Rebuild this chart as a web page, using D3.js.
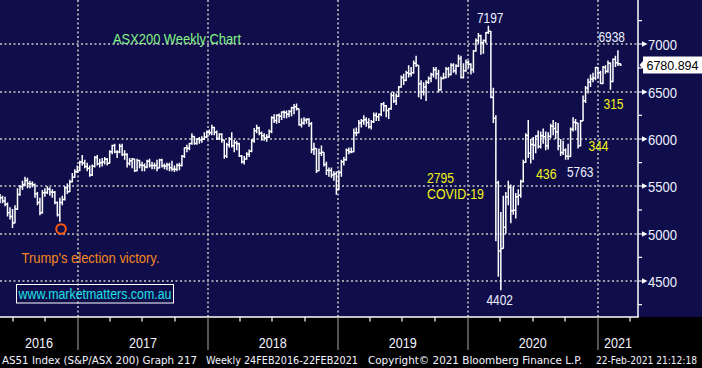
<!DOCTYPE html>
<html><head><meta charset="utf-8">
<script src="https://cdn.jsdelivr.net/npm/d3@7"></script>
<style>html,body{margin:0;padding:0;background:#000;}svg{display:block}</style>
</head><body><svg id="c" width="702" height="368"></svg>
<script>
// ---------- DATA ----------
const firstWeek = "2016-05-27";   // date of first weekly bar shown
const weekOpen = [5340,5378,5344,5311,5220,5180,5113,5260,5413,5497,5520,5562,5530,5527,5516,5420,5330,5220,5433,5435,5470,5440,5438,5330,5200,5330,5360,5484,5443,5548,5596,5654,
5666,5758,5745,5710,5690,5620,5713,5805,5739,5749,5756,5787,5743,5864,5931,5863,5862,5924,5836,5837,5742,5771,5788,5664,5774,5724,5721,5704,5765,5721,5721,5720,5694,5779,5718,5714,5728,5695,5681,5681,5722,5720,5818,5907,5903,5952,6025,5951,5997,5990,6001,6020,6070,
6065,6122,6070,6005,6050,5990,5820,5940,6000,5929,5960,5950,5820,5759,5788,5840,5870,5980,6087,6115,6060,6033,6010,6020,6080,6225,6195,6250,6240,6285,6280,6260,6290,6330,6340,6319,6150,6170,6200,6208,6160,5890,5900,5665,5850,5860,5730,5670,5667,5620,5630,5468,
5646,5760,5780,5880,5865,5864,6065,6066,6168,6190,6203,6175,6130,6181,6250,6235,6260,6370,6350,6300,6320,6460,6400,6450,6550,6650,6620,6700,6690,6700,6800,6780,6584,6500,6550,6600,6640,6680,6730,6690,6520,6640,6650,6740,6680,6780,6720,6770,6850,6650,6720,6810,
6790,6735,6929,7041,7090,7017,7040,7125,7139,6441,6218,5539,4817,4842,5067,5387,5488,5243,5247,5391,5405,5551,5755,6037,5848,5942,5934,6032,5920,6034,6024,5928,6028,6135,6111,6073,5925,5858,5883,5817,5815,6102,6176,6169,5928,6190,6405,6539,6601,6634,6643,6756,6700,
6587,6758,6715,6800,6607,6841,6806,6795];
const weekHigh = [5420,5400,5390,5330,5280,5260,5300,5480,5510,5560,5600,5590,5560,5550,5530,5440,5380,5460,5480,5500,5490,5470,5450,5340,5380,5400,5500,5530,5570,5640,5680,5720,
5770,5830,5780,5750,5720,5730,5820,5830,5790,5800,5810,5800,5880,5940,5950,5880,5950,5950,5880,5850,5800,5800,5790,5790,5780,5760,5740,5780,5790,5760,5750,5780,5790,5790,5740,5750,5750,5770,5720,5740,5750,5830,5910,5940,5960,6060,6030,6010,6020,6030,6070,6090,6100,
6150,6130,6090,6060,6060,5990,5960,6020,6070,5990,5980,5960,5830,5820,5860,5890,6000,6115,6150,6130,6080,6060,6050,6100,6240,6260,6260,6270,6290,6300,6300,6305,6340,6370,6375,6320,6220,6230,6220,6220,6180,5960,5900,5900,5930,5860,5760,5700,5700,5660,5660,5670,
5780,5810,5900,5910,5910,6110,6120,6200,6210,6250,6230,6220,6200,6280,6280,6270,6380,6390,6360,6330,6490,6500,6480,6560,6670,6690,6720,6780,6760,6830,6880,6780,6620,6600,6620,6660,6700,6760,6760,6730,6660,6700,6760,6760,6800,6800,6790,6890,6880,6800,6840,6830,
6800,6940,7060,7120,7100,7050,7130,7197,7140,6540,6250,5560,5228,5400,5440,5560,5520,5500,5430,5470,5570,5780,6060,6200,6000,6020,6040,6090,6080,6110,6080,6070,6160,6200,6180,6170,6000,5980,5900,5950,6120,6230,6210,6170,6200,6460,6560,6640,6680,6700,6760,6760,6720,
6770,6780,6830,6810,6850,6880,6938,6800];
const weekLow = [5320,5320,5290,5180,5150,5060,5110,5250,5400,5460,5500,5480,5480,5490,5380,5300,5195,5210,5390,5420,5400,5380,5310,5180,5125,5300,5350,5420,5440,5540,5590,5640,
5660,5720,5690,5660,5600,5610,5700,5720,5700,5710,5730,5720,5740,5840,5850,5800,5850,5820,5780,5700,5720,5690,5650,5660,5690,5660,5660,5690,5700,5680,5680,5660,5690,5700,5680,5670,5660,5660,5650,5660,5670,5710,5800,5860,5880,5940,5940,5940,5950,5960,5990,6010,6040,
6040,6040,5990,5990,5960,5790,5800,5910,5910,5860,5880,5810,5740,5730,5780,5810,5860,5960,6060,6040,5980,5980,5970,6010,6060,6170,6160,6170,6200,6220,6220,6230,6240,6260,6300,6140,6120,6150,6160,6130,5850,5830,5640,5660,5820,5710,5620,5600,5590,5560,5410,5460,
5600,5720,5770,5840,5850,5860,6030,6060,6120,6150,6130,6110,6100,6170,6190,6190,6240,6290,6230,6210,6310,6380,6360,6440,6540,6570,6610,6650,6660,6690,6760,6440,6420,6460,6400,6580,6600,6650,6630,6490,6510,6630,6640,6650,6670,6700,6680,6760,6640,6640,6710,6750,
6680,6700,6920,7010,6890,6900,7010,7110,6430,6170,4920,4546,4402,4840,5000,5300,5110,5200,5160,5300,5380,5540,5750,5800,5740,5780,5850,5900,5900,5950,5880,5890,6010,6040,6000,5880,5820,5830,5780,5780,5810,6080,6090,5900,5920,6190,6380,6480,6550,6600,6620,6640,6580,
6580,6690,6700,6520,6600,6760,6770,6770];
const weekClose = [5378,5344,5311,5220,5180,5113,5260,5413,5497,5520,5562,5530,5527,5516,5420,5330,5220,5433,5435,5470,5440,5438,5330,5200,5330,5360,5484,5443,5548,5596,5654,5666,
5758,5745,5710,5690,5620,5713,5805,5739,5749,5756,5787,5743,5864,5931,5863,5862,5924,5836,5837,5742,5771,5788,5664,5774,5724,5721,5704,5765,5721,5721,5720,5694,5779,5718,5714,5728,5695,5681,5681,5722,5720,5818,5907,5903,5952,6025,5951,5997,5990,6001,6020,6070,6065,
6122,6070,6005,6050,5990,5820,5940,6000,5929,5960,5950,5820,5759,5788,5840,5870,5980,6087,6115,6060,6033,6010,6020,6080,6225,6195,6250,6240,6285,6280,6260,6290,6330,6340,6319,6150,6170,6200,6208,6160,5890,5900,5665,5850,5860,5730,5670,5667,5620,5630,5468,5646,
5760,5780,5880,5865,5864,6065,6066,6168,6190,6203,6175,6130,6181,6250,6235,6260,6370,6350,6300,6320,6460,6400,6450,6550,6650,6620,6700,6690,6700,6800,6780,6584,6500,6550,6600,6640,6680,6730,6690,6520,6640,6650,6740,6680,6780,6720,6770,6850,6650,6720,6810,6790,
6735,6929,7041,7090,7017,7040,7125,7139,6441,6218,5539,4817,4842,5067,5387,5488,5243,5247,5391,5405,5551,5755,6037,5848,5942,5934,6032,5920,6034,6024,5928,6028,6135,6111,6073,5925,5858,5883,5817,5815,6102,6176,6169,5928,6190,6405,6539,6601,6634,6643,6756,6700,6587,
6758,6715,6800,6607,6841,6806,6795,6780.894];
const lastPrice = 6780.894;
const priceTicks = [4500,5000,5500,6000,6500,7000];
const minorTicks = [4250,4750,5250,5750,6250,6750,7250];
const yearStarts = ["2016-01-01","2017-01-01","2018-01-01","2019-01-01","2020-01-01","2021-01-01","2022-01-01"];
const yearLabels = ["2016","2017","2018","2019","2020","2021"];
const trumpWeek = 24, trumpValue = 5050;
const statusParts = ["AS51 Index (S&P/ASX 200) Graph 217", "Weekly 24FEB2016-22FEB2021", "Copyright\u00A9 2021 Bloomberg Finance L.P.", "22-Feb-2021 21:12:18"];

// ---------- LAYOUT ----------
const W = 702, H = 368, plotR = 638, plotB = 317;
const NAVY = "#0f0e4b";
const svg = d3.select("#c");
const parse = d3.timeParse("%Y-%m-%d");
const start = parse(firstWeek);
const dates = weekClose.map((_, i) => d3.timeDay.offset(start, 7 * i));

const x = d3.scaleTime().domain([parse("2017-01-01"), parse("2021-01-01")]).range([78, 598]);
const y = d3.scaleLinear().domain([4500, 7000]).range([281, 44.3]);

svg.append("rect").attr("width", W).attr("height", H).attr("fill", "#000");
svg.append("rect").attr("width", W).attr("height", plotB).attr("fill", NAVY);

const font = "'Liberation Sans', Arial, sans-serif";
const narrow = "'Liberation Sans Narrow', 'DejaVu Sans Condensed', 'Liberation Sans', sans-serif";

// gridlines
const grid = svg.append("g").attr("stroke", "#9c9ca8").attr("stroke-width", 2).attr("stroke-dasharray", "2,2.5");
grid.selectAll("line.h").data(priceTicks).join("line")
  .attr("x1", 0).attr("x2", plotR).attr("y1", d => Math.round(y(d))).attr("y2", d => Math.round(y(d)));
const yearDates = yearStarts.map(parse);
grid.selectAll("line.v").data(yearDates.slice(1, 6)).join("line")
  .attr("x1", d => Math.round(x(d))).attr("x2", d => Math.round(x(d))).attr("y1", 0).attr("y2", plotB);

// bars
svg.append("clipPath").attr("id", "clip").append("rect").attr("width", plotR).attr("height", plotB);
const path = d3.path();
const tk = 1.25;
weekClose.forEach((c, i) => {
  const xi = x(dates[i]);
  const hi = Math.max(weekHigh[i], weekOpen[i], c), lo = Math.min(weekLow[i], weekOpen[i], c);
  path.moveTo(xi, y(hi)); path.lineTo(xi, y(lo));
  path.moveTo(xi - tk, y(weekOpen[i])); path.lineTo(xi, y(weekOpen[i]));
  path.moveTo(xi, y(c)); path.lineTo(xi + tk, y(c));
});
svg.append("path").attr("d", path.toString()).attr("clip-path", "url(#clip)")
  .attr("fill", "none").attr("stroke", "#ffffff").attr("stroke-width", 1.5);

// frame
svg.append("line").attr("x1", plotR).attr("x2", plotR).attr("y1", 0).attr("y2", plotB).attr("stroke", "#fff").attr("stroke-width", 1.5);
svg.append("line").attr("x1", 0).attr("x2", plotR + 0.75).attr("y1", plotB).attr("y2", plotB).attr("stroke", "#fff").attr("stroke-width", 1.5);

// right axis
const ax = svg.append("g");
ax.selectAll("line.mn").data(minorTicks).join("line")
  .attr("x1", plotR).attr("x2", plotR + 4).attr("y1", d => y(d)).attr("y2", d => y(d))
  .attr("stroke", "#fff").attr("stroke-width", 1.2);
ax.selectAll("path.arr").data(priceTicks).join("path")
  .attr("d", d => { const yy = Math.round(y(d)); return `M${plotR},${yy - 0.6}L${plotR + 4},${yy - 0.6}L${plotR + 4},${yy - 2.8}L${plotR + 9.5},${yy}L${plotR + 4},${yy + 2.8}L${plotR + 4},${yy + 0.6}L${plotR},${yy + 0.6}Z`; })
  .attr("fill", "#fff");
ax.selectAll("text").data(priceTicks).join("text")
  .attr("x", 648).attr("y", d => Math.round(y(d)) + 6)
  .attr("font-family", font).attr("font-size", 14).attr("fill", "#eef0ff")
  .attr("textLength", 29).attr("lengthAdjust", "spacingAndGlyphs")
  .text(d => d);

// last price tag
const ly = y(lastPrice);
svg.append("path")
  .attr("d", `M639.5,${ly}L643,${ly - 4}L643,${ly - 8.5}L702,${ly - 8.5}L702,${ly + 8.5}L643,${ly + 8.5}L643,${ly + 4}Z`)
  .attr("fill", "#fff");
svg.append("text").attr("x", 646.5).attr("y", ly + 5)
  .attr("font-family", font).attr("font-size", 13).attr("fill", "#000")
  .attr("textLength", 52).attr("lengthAdjust", "spacingAndGlyphs").text(d3.format(".3f")(lastPrice));

// bottom axis: quarter ticks and year separators
const quarters = d3.timeMonth.every(3).range(parse("2016-06-01"), parse("2021-06-01"))
  .filter(d => d.getMonth() !== 0 && x(d) > 0 && x(d) < plotR);
svg.append("g").selectAll("line").data(quarters).join("line")
  .attr("x1", d => Math.round(x(d))).attr("x2", d => Math.round(x(d))).attr("y1", plotB).attr("y2", plotB + 4.5)
  .attr("stroke", "#fff").attr("stroke-width", 1.2);
svg.append("g").selectAll("line").data(yearDates.slice(1, 6)).join("line")
  .attr("x1", d => Math.round(x(d))).attr("x2", d => Math.round(x(d))).attr("y1", plotB).attr("y2", 350)
  .attr("stroke", "#8c8c8c").attr("stroke-width", 1.2);
svg.append("g").selectAll("text").data(yearLabels).join("text")
  .attr("x", (d, i) => (Math.max(0, x(yearDates[i])) + Math.min(plotR, x(yearDates[i + 1]))) / 2)
  .attr("y", 348).attr("text-anchor", "middle")
  .attr("font-family", font).attr("font-size", 14).attr("fill", "#f4f4ff")
  .attr("textLength", 28).attr("lengthAdjust", "spacingAndGlyphs")
  .text(d => d);

const statusX = [2, 206, 368, 697], statusW = [195, 152, 214, 101], statusAnchor = ["start", "start", "start", "end"];
svg.append("g").selectAll("text").data(statusParts).join("text")
  .attr("x", (d, i) => statusX[i]).attr("y", 363.5).attr("text-anchor", (d, i) => statusAnchor[i])
  .attr("font-family", narrow).attr("font-size", 11).attr("fill", "#f4f4ff")
  .attr("textLength", (d, i) => statusW[i]).attr("lengthAdjust", "spacingAndGlyphs").text(d => d);

// annotations
function label(t, xx, yy, col, w, size) {
  svg.append("text").attr("x", xx).attr("y", yy).attr("fill", col)
    .attr("font-family", font).attr("font-size", size || 14)
    .attr("textLength", w).attr("lengthAdjust", "spacingAndGlyphs").text(t);
}
const WHITE = "#eef0ff", YEL = "#f4f419";
label("ASX200 Weekly Chart", 113, 44, "#86f586", 128, 15);
label("7197", 477, 23.3, WHITE, 26.5);
label("6938", 598.5, 42, WHITE, 26.5);
label("315", 603.5, 109, YEL, 20);
label("344", 588.5, 151, YEL, 20);
label("5763", 567, 177, WHITE, 26.5);
label("436", 536, 179, YEL, 20.5);
label("2795", 427, 183, YEL, 27);
label("COVID-19", 427, 199, YEL, 57);
label("4402", 486.5, 305, WHITE, 26.5);
label("Trump's election victory.", 21.5, 262.5, "#f5861e", 138);

// Trump circle
svg.append("circle").attr("cx", x(dates[trumpWeek]) + 1.2).attr("cy", y(trumpValue)).attr("r", 4.8)
  .attr("fill", "none").attr("stroke", "#ff5a0f").attr("stroke-width", 2);

// website box
svg.append("rect").attr("x", 16.5).attr("y", 284.5).attr("width", 157).attr("height", 18.5)
  .attr("fill", "none").attr("stroke", "#fff").attr("stroke-width", 1);
label("www.marketmatters.com.au", 18.5, 299, "#1ee0e6", 153);
</script></body></html>
